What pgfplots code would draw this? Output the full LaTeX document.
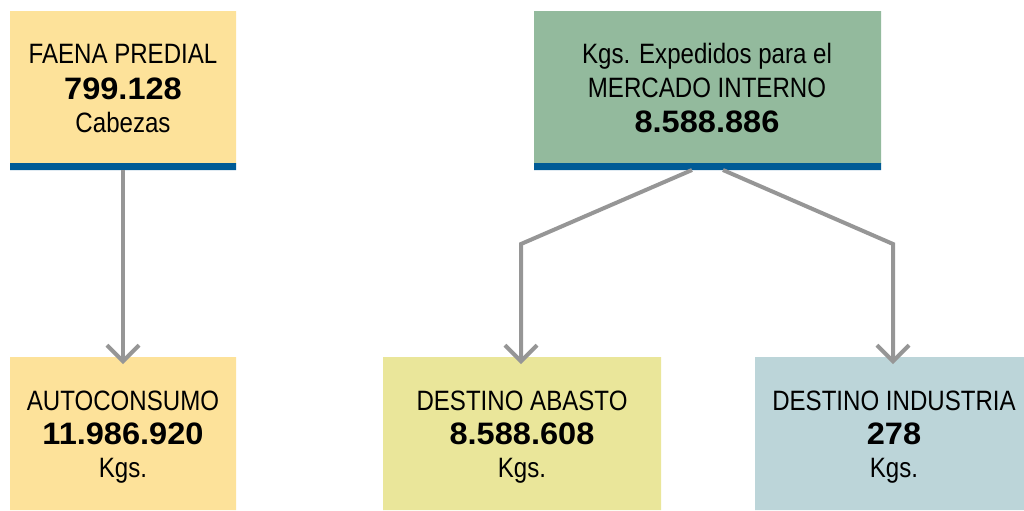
\documentclass[border=0pt]{standalone}
\usepackage{fontspec}
\setmainfont{Liberation Sans}[FakeStretch=0.86]
\newfontfamily\numfont{Liberation Sans Bold}[FakeStretch=1.05]
\usepackage{pgfplots}
\pgfplotsset{compat=1.18}
\usetikzlibrary{arrows.meta}
\definecolor{peach}{HTML}{FDE29A}
\definecolor{sage}{HTML}{93BA9D}
\definecolor{straw}{HTML}{EAE69A}
\definecolor{ice}{HTML}{BCD5D9}
\definecolor{strip}{HTML}{005B96}
\definecolor{arr}{HTML}{969696}
\tikzset{
  txt/.style={anchor=base, font=\fontsize{14}{16}\selectfont},
  num/.style={anchor=base, font=\numfont\fontsize{15.5}{17}\selectfont},
  arrw/.style={draw=arr, line width=2pt, line join=miter, -{Straight Barb[length=8pt,width=16pt]}},
}
\begin{document}
\begin{tikzpicture}
\begin{axis}[
  scale only axis, width=512pt, height=255pt,
  xmin=0, xmax=1024, ymin=0, ymax=510, y dir=reverse,
  hide axis, clip=false,
]
\addplot[draw=none] coordinates {(0,0) (1024,510)};
% boxes
\addplot[fill=peach, draw=none] coordinates {(10,11) (236,11) (236,164) (10,164) (10,11)};
\addplot[fill=strip, draw=none] coordinates {(10,163) (236,163) (236,170) (10,170) (10,163)};
\addplot[fill=sage, draw=none] coordinates {(534,11) (881,11) (881,164) (534,164) (534,11)};
\addplot[fill=strip, draw=none] coordinates {(534,163) (881,163) (881,170) (534,170) (534,163)};
\addplot[fill=peach, draw=none] coordinates {(10,357) (236,357) (236,510) (10,510) (10,357)};
\addplot[fill=straw, draw=none] coordinates {(383,357) (661,357) (661,510) (383,510) (383,357)};
\addplot[fill=ice, draw=none] coordinates {(755,357) (1024,357) (1024,510) (755,510) (755,357)};
% arrows
\addplot[arrw] coordinates {(123,170) (123,364)};
\addplot[arrw] coordinates {(692,170) (521,244) (521,364)};
\addplot[arrw] coordinates {(723,170) (893,244) (893,364)};
% texts
\node[txt] at (axis cs:123,63) {FAENA PREDIAL};
\node[num] at (axis cs:123,99) {799.128};
\node[txt] at (axis cs:123,132) {Cabezas};
\node[txt] at (axis cs:707,63) {Kgs. Expedidos para el};
\node[txt] at (axis cs:707,97) {MERCADO INTERNO};
\node[num] at (axis cs:707,132) {8.588.886};
\node[txt] at (axis cs:123,410) {AUTOCONSUMO};
\node[num] at (axis cs:123,444) {11.986.920};
\node[txt] at (axis cs:123,477) {Kgs.};
\node[txt] at (axis cs:522,410) {DESTINO ABASTO};
\node[num] at (axis cs:522,444) {8.588.608};
\node[txt] at (axis cs:522,477) {Kgs.};
\node[txt] at (axis cs:894,410) {DESTINO INDUSTRIA};
\node[num] at (axis cs:894,444) {278};
\node[txt] at (axis cs:894,477) {Kgs.};
\end{axis}
\end{tikzpicture}
\end{document}
